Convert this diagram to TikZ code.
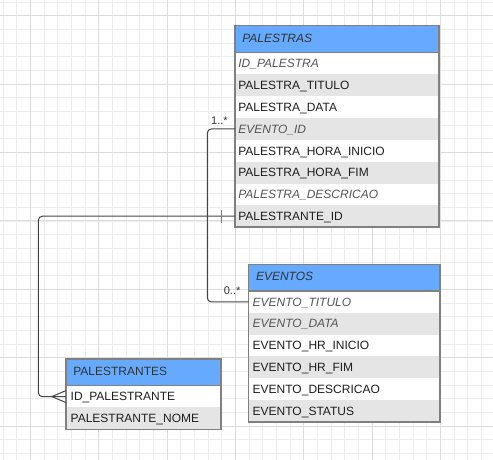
\documentclass[tikz,border=0pt]{standalone}
\usepackage{fontspec}
\setmainfont{Liberation Sans}
\definecolor{hdrc}{HTML}{66AAFF}
\definecolor{altc}{HTML}{E5E5E5}
\definecolor{bordc}{HTML}{808080}
\definecolor{txtc}{HTML}{1E1E1E}
\definecolor{itxc}{HTML}{555555}
\definecolor{htxc}{HTML}{333333}
\definecolor{gminc}{HTML}{EDEDED}
\definecolor{gmajc}{HTML}{DCDCDC}
\definecolor{connc}{HTML}{444444}
\begin{document}
\begin{tikzpicture}[x=0.75pt,y=-0.75pt,
  every node/.style={font=\fontsize{9}{11}\selectfont},
  row/.style={anchor=north west, inner ysep=0pt, outer sep=0pt, minimum height=16.35pt,
    text height=6.45pt, text depth=0pt, align=left, text=txtc, fill=white},
  altrow/.style={row, fill=altc},
  it/.style={text=itxc, font=\fontsize{9}{11}\selectfont\itshape},
  hdr/.style={anchor=north west, inner ysep=0pt, outer sep=0pt, inner xsep=5.5pt, fill=hdrc,
    text height=6.45pt, text depth=1.5pt, align=left, text=htxc, minimum height=20.25pt},
  pw/.style={text width=148pt, inner xsep=2.5pt},
  ew/.style={text width=137.5pt, inner xsep=3pt},
  sw/.style={text width=109.25pt, inner xsep=3.5pt},
  tblborder/.style={draw=bordc, line width=1.1pt},
  conn/.style={draw=connc, line width=0.75pt, rounded corners=3pt},
  lbl/.style={font=\fontsize{8.3}{10}\selectfont, text=htxc, inner sep=0pt},
  gmin/.style={draw=gminc, line width=0.75pt},
  gmaj/.style={draw=gmajc, line width=0.75pt}]
\useasboundingbox (0,0) rectangle (493,460);
\fill[white] (0,0) rectangle (493,460);
% grid
\foreach \i in {0,...,35} { \pgfmathsetmacro\gx{3.17+\i*13.667} \draw[gmin] (\gx,0) -- (\gx,460); }
\foreach \j in {0,...,33} { \pgfmathsetmacro\gy{2.33+\j*13.667} \draw[gmin] (0,\gy) -- (493,\gy); }
\foreach \i in {0,...,6} { \pgfmathsetmacro\gx{30.5+\i*68.333} \draw[gmaj] (\gx,0) -- (\gx,460); }
\foreach \j in {0,...,6} { \pgfmathsetmacro\gy{16+\j*68.333} \draw[gmaj] (0,\gy) -- (493,\gy); }

% PALESTRAS
\node[hdr, text width=142pt, minimum width=153pt] (ph) at (235,25.7) {\itshape PALESTRAS};
\node[row, pw, it] (p1) at (ph.south west) {ID\_PALESTRA};
\node[altrow, pw] (p2) at (p1.south west) {PALESTRA\_TITULO};
\node[row, pw] (p3) at (p2.south west) {PALESTRA\_DATA};
\node[altrow, pw, it] (p4) at (p3.south west) {EVENTO\_ID};
\node[row, pw] (p5) at (p4.south west) {PALESTRA\_HORA\_INICIO};
\node[altrow, pw] (p6) at (p5.south west) {PALESTRA\_HORA\_FIM};
\node[row, pw, it] (p7) at (p6.south west) {PALESTRA\_DESCRICAO};
\node[altrow, pw] (p8) at (p7.south west) {PALESTRANTE\_ID};
\draw[bordc, line width=0.9pt] (ph.south west) -- (ph.south east);
\draw[tblborder] (ph.north west) rectangle (p8.south east);

% EVENTOS
\node[hdr, text width=132.5pt, minimum width=143.5pt, minimum height=20pt] (eh) at (248.7,264.3) {\itshape EVENTOS};
\node[row, ew, it] (e1) at (eh.south west) {EVENTO\_TITULO};
\node[altrow, ew, it] (e2) at (e1.south west) {EVENTO\_DATA};
\node[row, ew] (e3) at (e2.south west) {EVENTO\_HR\_INICIO};
\node[altrow, ew] (e4) at (e3.south west) {EVENTO\_HR\_FIM};
\node[row, ew] (e5) at (e4.south west) {EVENTO\_DESCRICAO};
\node[altrow, ew] (e6) at (e5.south west) {EVENTO\_STATUS};
\draw[bordc, line width=0.9pt] (eh.south west) -- (eh.south east);
\draw[tblborder] (eh.north west) rectangle (e6.south east);

% PALESTRANTES
\node[hdr, text width=105.25pt, minimum width=116.25pt, minimum height=20pt] (sh) at (66,359) {PALESTRANTES};
\node[row, sw] (s1) at (sh.south west) {ID\_PALESTRANTE};
\node[altrow, sw] (s2) at (s1.south west) {PALESTRANTE\_NOME};
\draw[bordc, line width=0.9pt] (sh.south west) -- (sh.south east);
\draw[tblborder] (sh.north west) rectangle (s2.south east);

% connector EVENTO_ID -> EVENTOS
\draw[conn] (p4.west) -- ++(-27.7,0) |- (e1.west);
\node[lbl, anchor=base east] (l1) at ([xshift=-5.25pt,yshift=3pt]p4.west) {1..*};
\node[lbl, anchor=base east] (l2) at ([xshift=-6pt,yshift=5.5pt]e1.west) {0..*};

% connector PALESTRANTE_ID -> PALESTRANTES
\draw[conn] (p8.west) -- ++(-196.7,0) |- (s1.west);
\draw[draw=connc!70, line width=0.75pt] ([xshift=-10.3pt,yshift=4.9pt]p8.west) -- ([xshift=-10.3pt,yshift=-4.9pt]p8.west);
\draw[draw=connc, line width=0.75pt] ([xshift=-10.7pt]s1.west) -- ([yshift=4.5pt]s1.west);
\draw[draw=connc, line width=0.75pt] ([xshift=-10.7pt]s1.west) -- ([yshift=-4.5pt]s1.west);
\end{tikzpicture}
\end{document}
